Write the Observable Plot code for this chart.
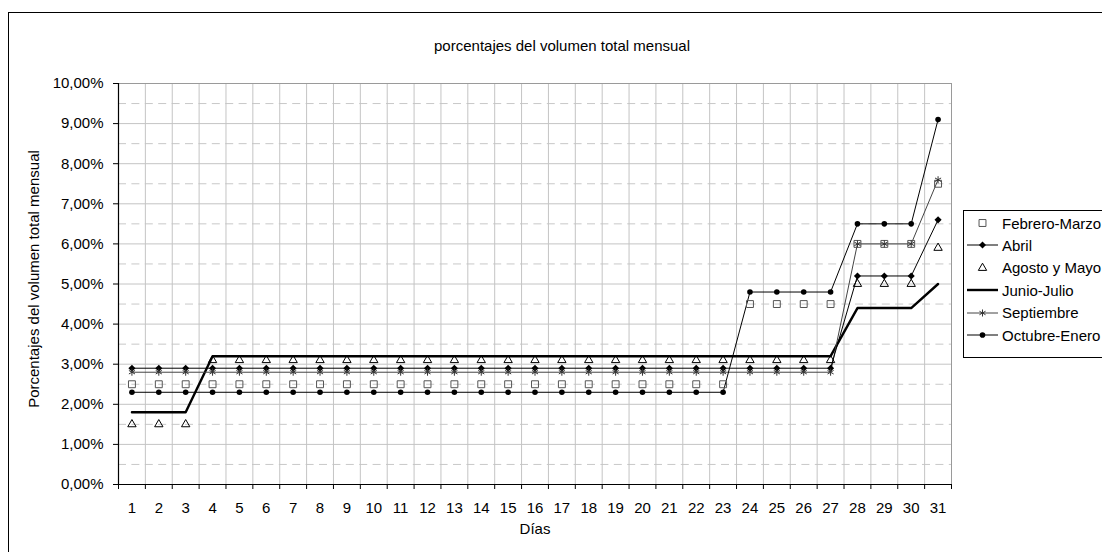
<!DOCTYPE html>
<html>
<head>
<meta charset="utf-8">
<script src="https://cdn.jsdelivr.net/npm/d3@7"></script>
<script src="https://cdn.jsdelivr.net/npm/@observablehq/plot@0.6"></script>
<style>
  html, body { margin: 0; padding: 0; background: #fff; }
  body { font-family: "Liberation Sans", Arial, sans-serif; }
  #wrap { position: relative; width: 1102px; height: 552px; overflow: hidden; background: #fff; }
  #chart { position: absolute; left: 0; top: 0; }
  #border { position: absolute; left: 8px; top: 12px; width: 1300px; height: 700px; border: 1px solid #000; box-sizing: border-box; pointer-events: none; }
  #legend { position: absolute; left: 963px; top: 210px; width: 200px; height: 148px; border: 1px solid #000; background: #fff; box-sizing: border-box; }
  .lg-row { position: absolute; left: 0; height: 20px; display: flex; align-items: center; font-size: 15px; color: #000; white-space: nowrap; }
  .lg-row svg { display: block; margin-left: 3px; margin-right: 4px; }
</style>
</head>
<body>
<div id="wrap">
  <div id="chart"></div>
  <div id="border"></div>
  <div id="legend"></div>
</div>
<script>
// ---------- data ----------
const title = "porcentajes del volumen total mensual";
const yTitle = "Porcentajes del volumen total mensual";
const xTitle = "Días";

const days = [1,2,3,4,5,6,7,8,9,10,11,12,13,14,15,16,17,18,19,20,21,22,23,24,25,26,27,28,29,30,31];

const febreroMarzo = [2.5,2.5,2.5,2.5,2.5,2.5,2.5,2.5,2.5,2.5,2.5,2.5,2.5,2.5,2.5,2.5,2.5,2.5,2.5,2.5,2.5,2.5,2.5,4.5,4.5,4.5,4.5,6.0,6.0,6.0,7.5];
const abril        = [2.9,2.9,2.9,2.9,2.9,2.9,2.9,2.9,2.9,2.9,2.9,2.9,2.9,2.9,2.9,2.9,2.9,2.9,2.9,2.9,2.9,2.9,2.9,2.9,2.9,2.9,2.9,5.2,5.2,5.2,6.6];
const agostoMayo   = [1.5,1.5,1.5,3.1,3.1,3.1,3.1,3.1,3.1,3.1,3.1,3.1,3.1,3.1,3.1,3.1,3.1,3.1,3.1,3.1,3.1,3.1,3.1,3.1,3.1,3.1,3.1,5.0,5.0,5.0,5.9];
const junioJulio   = [1.8,1.8,1.8,3.2,3.2,3.2,3.2,3.2,3.2,3.2,3.2,3.2,3.2,3.2,3.2,3.2,3.2,3.2,3.2,3.2,3.2,3.2,3.2,3.2,3.2,3.2,3.2,4.4,4.4,4.4,5.0];
const septiembre   = [2.8,2.8,2.8,2.8,2.8,2.8,2.8,2.8,2.8,2.8,2.8,2.8,2.8,2.8,2.8,2.8,2.8,2.8,2.8,2.8,2.8,2.8,2.8,2.8,2.8,2.8,2.8,6.0,6.0,6.0,7.6];
const octubreEnero = [2.3,2.3,2.3,2.3,2.3,2.3,2.3,2.3,2.3,2.3,2.3,2.3,2.3,2.3,2.3,2.3,2.3,2.3,2.3,2.3,2.3,2.3,2.3,4.8,4.8,4.8,4.8,6.5,6.5,6.5,9.1];

const seriesNames = ["Febrero-Marzo","Abril","Agosto y Mayo","Junio-Julio","Septiembre","Octubre-Enero"];
const yTicks = [0,0.01,0.02,0.03,0.04,0.05,0.06,0.07,0.08,0.09,0.10];
const yMinor = [0.005,0.015,0.025,0.035,0.045,0.055,0.065,0.075,0.085,0.095];

// ---------- helpers ----------
const es = d3.formatLocale({decimal: ",", thousands: ".", grouping: [3], currency: ["", "€"]});
const pct = es.format(".2%");
const rows = (vals, name) => days.map((d, i) => ({day: d, value: vals[i] / 100, series: name}));

const fm = rows(febreroMarzo, seriesNames[0]);
const ab = rows(abril, seriesNames[1]);
const am = rows(agostoMayo, seriesNames[2]);
const jj = rows(junioJulio, seriesNames[3]);
const se = rows(septiembre, seriesNames[4]);
const oe = rows(octubreEnero, seriesNames[5]);

const boundaries = days.map(d => d - 0.5).concat([days[days.length - 1] + 0.5]);
const innerBoundaries = boundaries.slice(1, -1);

const chart = Plot.plot({
  width: 1102,
  height: 552,
  marginLeft: 118,
  marginRight: 151,
  marginTop: 83,
  marginBottom: 68,
  style: {fontFamily: "'Liberation Sans', Arial, sans-serif", fontSize: "15px", background: "transparent", color: "#000"},
  x: {domain: [boundaries[0], boundaries[boundaries.length - 1]], axis: null},
  y: {domain: [0, 0.10], axis: null},
  marks: [
    // gridlines
    Plot.ruleY(yMinor, {stroke: "#c8c8c8", strokeDasharray: "8,5.4", strokeWidth: 1}),
    Plot.ruleY(yTicks.slice(1, -1), {stroke: "#c4c4c4", strokeWidth: 1}),
    Plot.ruleX(innerBoundaries, {stroke: "#c4c4c4", strokeWidth: 1}),
    // plot area top & right border
    Plot.ruleY([0.10], {stroke: "#9a9a9a"}),
    Plot.ruleX([boundaries[boundaries.length - 1]], {stroke: "#9a9a9a"}),
    // axes
    Plot.axisY(yTicks, {tickFormat: pct, tickSize: 5, tickPadding: 10, label: null, stroke: "#000", fontSize: 15}),
    Plot.axisX(boundaries, {tickFormat: () => "", tickSize: 5, label: null, stroke: "#000"}),
    Plot.axisX(days, {tickSize: 0, tickPadding: 18, label: null, fontSize: 15}),
    Plot.ruleX([boundaries[0]], {stroke: "#000", strokeWidth: 1.2}),
    Plot.ruleY([0], {stroke: "#000", strokeWidth: 1.2}),
    // titles
    Plot.text([title], {text: d => d, frameAnchor: "top", dy: -43, dx: 27, fontSize: 15}),
    Plot.text([xTitle], {text: d => d, frameAnchor: "bottom", dy: 49, fontSize: 15}),
    Plot.text([yTitle], {text: d => d, frameAnchor: "left", textAnchor: "middle", rotate: -90, dx: -84, dy: -5, fontSize: 15}),
    // series lines
    Plot.line(jj, {x: "day", y: "value", stroke: "#000", strokeWidth: 2.4}),
    Plot.line(se, {x: "day", y: "value", stroke: "#444", strokeWidth: 1}),
    Plot.line(ab, {x: "day", y: "value", stroke: "#000", strokeWidth: 1}),
    Plot.line(oe, {x: "day", y: "value", stroke: "#000", strokeWidth: 1}),
    // markers
    Plot.dot(fm, {x: "day", y: "value", symbol: "square", r: 3.9, stroke: "#555", fill: "none", strokeWidth: 1}),
    Plot.dot(am, {x: "day", y: "value", symbol: "triangle", r: 3.1, stroke: "#000", fill: "none", strokeWidth: 1}),
    Plot.dot(ab, {x: "day", y: "value", symbol: "diamond2", r: 3.2, fill: "#000", stroke: "none"}),
    Plot.dot(se, {x: "day", y: "value", symbol: "asterisk", r: 3.3, stroke: "#333", fill: "none", strokeWidth: 1}),
    Plot.dot(oe, {x: "day", y: "value", symbol: "circle", r: 2.8, fill: "#000", stroke: "none"})
  ]
});
document.getElementById("chart").appendChild(chart);

// ---------- legend ----------
const legendSpec = [
  {name: seriesNames[0], line: null, symbol: d3.symbolSquare, size: 48, fill: "none", stroke: "#555"},
  {name: seriesNames[1], line: {w: 1, c: "#000"}, symbol: d3.symbolDiamond2, size: 32, fill: "#000", stroke: "none"},
  {name: seriesNames[2], line: null, symbol: d3.symbolTriangle, size: 30, fill: "none", stroke: "#000"},
  {name: seriesNames[3], line: {w: 2.4, c: "#000"}, symbol: null},
  {name: seriesNames[4], line: {w: 1, c: "#444"}, symbol: d3.symbolAsterisk, size: 34, fill: "none", stroke: "#333"},
  {name: seriesNames[5], line: {w: 1, c: "#000"}, symbol: d3.symbolCircle, size: 25, fill: "#000", stroke: "none"}
];
const legend = document.getElementById("legend");
legendSpec.forEach((s, i) => {
  const row = document.createElement("div");
  row.className = "lg-row";
  row.style.top = (2 + i * 22.4) + "px";
  const svg = d3.create("svg").attr("width", 31).attr("height", 20);
  if (s.line) svg.append("line").attr("x1", 0).attr("x2", 31).attr("y1", 10).attr("y2", 10)
    .attr("stroke", s.line.c).attr("stroke-width", s.line.w);
  if (s.symbol) svg.append("path").attr("d", d3.symbol(s.symbol, s.size)())
    .attr("transform", "translate(15.5,10)").attr("fill", s.fill).attr("stroke", s.stroke);
  row.appendChild(svg.node());
  const t = document.createElement("span");
  t.textContent = s.name;
  row.appendChild(t);
  legend.appendChild(row);
});
</script>
</body>
</html>
